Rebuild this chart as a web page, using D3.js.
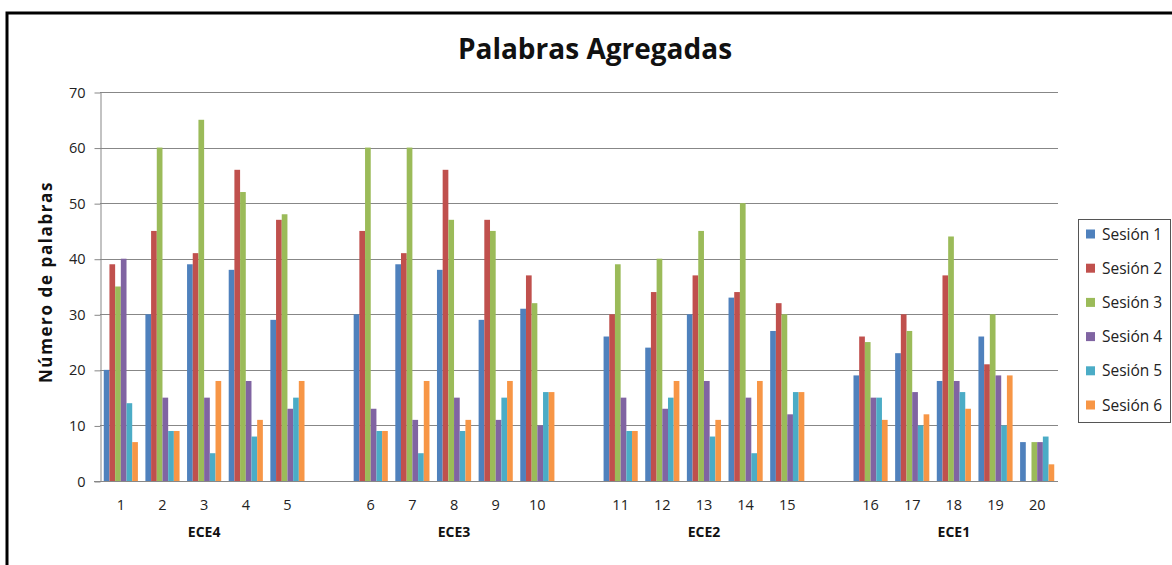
<!DOCTYPE html>
<html>
<head>
<meta charset="utf-8">
<script src="https://cdn.jsdelivr.net/npm/d3@7"></script>
<style>
  body { margin: 0; background: #fff; }
  svg { display: block; font-family: "Open Sans", "Noto Sans", sans-serif; }
</style>
</head>
<body>
<div id="chart"></div>
<script>
// categories (trials) grouped by participant
var groups = ["ECE4", "ECE3", "ECE2", "ECE1"];
var groupCats = [
	["1", "2", "3", "4", "5"],
	["6", "7", "8", "9", "10"],
	["11", "12", "13", "14", "15"],
	["16", "17", "18", "19", "20"]
];
var sessions = ["Sesión 1", "Sesión 2", "Sesión 3", "Sesión 4", "Sesión 5", "Sesión 6"];
var colors = ["#4F81BD", "#C0504D", "#9BBB59", "#8064A2", "#4BACC6", "#F79646"];

// values per session, categories 1..20
var sesion1 = [20, 30, 39, 38, 29, 30, 39, 38, 29, 31, 26, 24, 30, 33, 27, 19, 23, 18, 26, 7];
var sesion2 = [39, 45, 41, 56, 47, 45, 41, 56, 47, 37, 30, 34, 37, 34, 32, 26, 30, 37, 21, 0];
var sesion3 = [35, 60, 65, 52, 48, 60, 60, 47, 45, 32, 39, 40, 45, 50, 30, 25, 27, 44, 30, 7];
var sesion4 = [40, 15, 15, 18, 13, 13, 11, 15, 11, 10, 15, 13, 18, 15, 12, 15, 16, 18, 19, 7];
var sesion5 = [14, 9, 5, 8, 15, 9, 5, 9, 15, 16, 9, 15, 8, 5, 16, 15, 10, 16, 10, 8];
var sesion6 = [7, 9, 18, 11, 18, 9, 18, 11, 18, 16, 9, 18, 11, 18, 16, 11, 12, 13, 19, 3];
var yTicks = [0, 10, 20, 30, 40, 50, 60, 70];

function renderChart() {
	var series = [sesion1, sesion2, sesion3, sesion4, sesion5, sesion6];
	var categories = [].concat.apply([], groupCats);

	// slot list with an empty slot between groups
	var slots = [];
	groupCats.forEach(function (g, i) {
		slots = slots.concat(g);
		if (i < groupCats.length - 1) slots.push("gap" + i);
	});

	var W = 1172, H = 565;
	var plotLeft = 100, plotRight = 1058, plotTop = 92, plotBottom = 481;

	var svg = d3.select("#chart").append("svg")
		.attr("width", W)
		.attr("height", H);

	// outer frame
	svg.append("rect")
		.attr("x", 7).attr("y", 13)
		.attr("width", 1300).attr("height", 700)
		.attr("fill", "none")
		.attr("stroke", "#000")
		.attr("stroke-width", 3);

	var x = d3.scaleBand().domain(slots).range([plotLeft, plotRight]);
	var y = d3.scaleLinear().domain([0, 70]).range([plotBottom, plotTop]);

	// inner scale: bars take ~82% of slot
	var inner = d3.scaleBand().domain(sessions)
		.range([x.bandwidth() * 0.09, x.bandwidth() * 0.91]);

	// gridlines
	svg.append("g")
		.selectAll("line")
		.data(yTicks.filter(function (d) { return d > 0; }))
		.enter().append("line")
		.attr("x1", plotLeft).attr("x2", plotRight)
		.attr("y1", function (d) { return Math.round(y(d)) + 0.5; })
		.attr("y2", function (d) { return Math.round(y(d)) + 0.5; })
		.attr("stroke", "#878787")
		.attr("stroke-width", 1);

	// y axis
	var yAxis = svg.append("g")
		.attr("transform", "translate(" + (plotLeft + 0.5) + ",0.5)")
		.call(d3.axisLeft(y).tickValues(yTicks).tickSize(6).tickPadding(9).tickSizeOuter(0));
	yAxis.select(".domain").attr("stroke", "#878787");
	yAxis.selectAll(".tick line").attr("stroke", "#878787");
	yAxis.selectAll("text").attr("font-size", 14.5).attr("fill", "#222")
		.attr("font-family", "Open Sans");

	// bars
	var barData = [];
	categories.forEach(function (c, ci) {
		sessions.forEach(function (s, si) {
			barData.push({ cat: c, session: s, value: series[si][ci], color: colors[si] });
		});
	});

	svg.append("g")
		.selectAll("rect")
		.data(barData)
		.enter().append("rect")
		.attr("x", function (d) { return x(d.cat) + inner(d.session); })
		.attr("y", function (d) { return y(d.value); })
		.attr("width", inner.bandwidth())
		.attr("height", function (d) { return plotBottom - y(d.value); })
		.attr("fill", function (d) { return d.color; });

	// x axis
	var xAxis = svg.append("g")
		.attr("transform", "translate(0," + (plotBottom + 0.5) + ")")
		.call(d3.axisBottom(x).tickValues(categories).tickSize(0).tickPadding(18).tickSizeOuter(0));
	xAxis.select(".domain").attr("stroke", "#878787").attr("d", "M" + (plotLeft - 6) + ",0H" + plotRight);
	xAxis.selectAll("text").attr("font-size", 14.5).attr("fill", "#222")
		.attr("font-family", "Open Sans");

	// group labels
	svg.append("g")
		.selectAll("text")
		.data(groups)
		.enter().append("text")
		.attr("x", function (d, i) { return x(groupCats[i][2]) + x.bandwidth() / 2; })
		.attr("y", 537)
		.attr("text-anchor", "middle")
		.attr("font-size", 14)
		.attr("font-weight", "bold")
		.attr("fill", "#111")
		.text(function (d) { return d; });

	// title
	svg.append("text")
		.attr("x", 595)
		.attr("y", 59)
		.attr("text-anchor", "middle")
		.attr("font-size", 28)
		.attr("font-weight", "bold")
		.attr("fill", "#111")
		.text("Palabras Agregadas");

	// y axis title
	svg.append("text")
		.attr("transform", "translate(52,282) rotate(-90)")
		.attr("text-anchor", "middle")
		.attr("font-size", 17)
		.attr("font-weight", "bold")
		.attr("letter-spacing", 1.6)
		.attr("fill", "#111")
		.text("Número de palabras");

	// legend
	var legend = svg.append("g").attr("transform", "translate(1078,219)");
	legend.append("rect")
		.attr("x", 0.5).attr("y", 0.5)
		.attr("width", 92).attr("height", 203)
		.attr("fill", "#fff")
		.attr("stroke", "#555");

	var item = legend.selectAll(".item")
		.data(sessions)
		.enter().append("g")
		.attr("class", "item")
		.attr("transform", function (d, i) { return "translate(0," + (15 + i * 34.2) + ")"; });

	item.append("rect")
		.attr("x", 8).attr("y", -4.5)
		.attr("width", 9).attr("height", 9)
		.attr("fill", function (d, i) { return colors[i]; });

	item.append("text")
		.attr("x", 24)
		.attr("y", 5.5)
		.attr("font-size", 15.5)
		.attr("fill", "#222")
		.text(function (d) { return d; });
}

renderChart();
</script>
</body>
</html>
